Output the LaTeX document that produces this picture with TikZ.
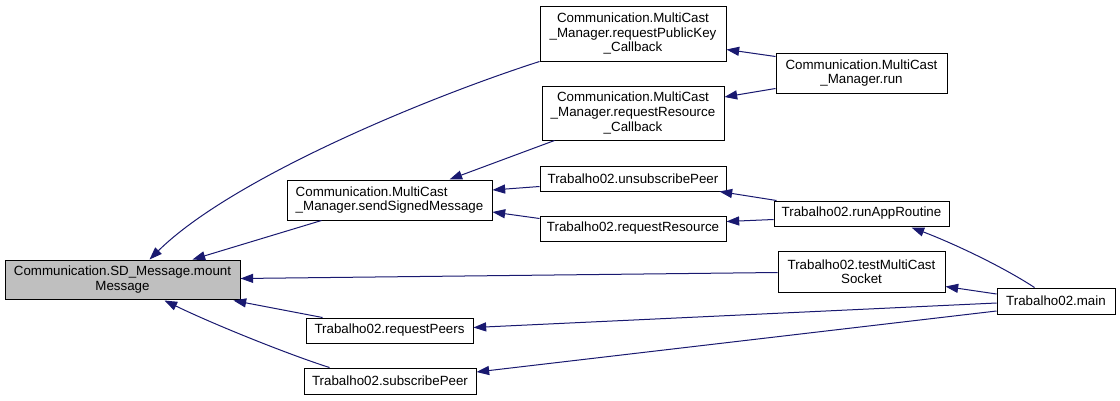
\documentclass[tikz,border=0pt]{standalone}
\usepackage{fontspec}
\setmainfont{Liberation Sans}
\usetikzlibrary{arrows.meta,calc}
\definecolor{edgeblue}{HTML}{191970}
\definecolor{rootgray}{HTML}{BFBFBF}
\begin{document}
\begin{tikzpicture}[x=0.75pt,y=-0.75pt,
  fn/.style={draw=black,line width=0.75pt,fill=white,inner sep=0pt,align=center,
    font=\fontsize{10pt}{10.9pt}\selectfont},
  edge/.style={draw=edgeblue,line width=0.75pt,-{Triangle[length=9.5pt,width=6.8pt]}}]
\useasboundingbox (0,0) rectangle (1120,400);
\fill[white] (0,0) rectangle (1120,400);
% nodes
\node[fn,fill=rootgray,minimum width=176.25pt,minimum height=29.25pt] (mm) at (122.5,279.5) {Communication.SD\_Message.mount\\Message};
\node[fn,align=left,minimum width=153.75pt,minimum height=30pt] (ssm) at (389.5,200) {Communication.MultiCast\\\_Manager.sendSignedMessage};
\node[fn,minimum width=139.5pt,minimum height=41.25pt] (pk) at (633,33.5) {Communication.MultiCast\\\_Manager.requestPublicKey\\\_Callback};
\node[fn,minimum width=136.5pt,minimum height=40.5pt] (rc) at (633,113) {Communication.MultiCast\\\_Manager.requestResource\\\_Callback};
\node[fn,minimum width=139.5pt,minimum height=18.75pt] (un) at (633,178.5) {Trabalho02.unsubscribePeer};
\node[fn,minimum width=139.5pt,minimum height=18.75pt] (rr) at (633,228.5) {Trabalho02.requestResource};
\node[fn,minimum width=125.25pt,minimum height=18.75pt] (rp) at (389.5,330.5) {Trabalho02.requestPeers};
\node[fn,minimum width=129pt,minimum height=19.5pt] (sp) at (390,381) {Trabalho02.subscribePeer};
\node[fn,minimum width=128.25pt,minimum height=30pt] (run) at (861.5,73) {Communication.MultiCast\\\_Manager.run};
\node[fn,minimum width=131.25pt,minimum height=18.75pt] (ra) at (861.5,213.5) {Trabalho02.runAppRoutine};
\node[fn,minimum width=125.25pt,minimum height=30.75pt] (tm) at (861.5,271.5) {Trabalho02.testMultiCast\\Socket};
\node[fn,minimum width=88.5pt,minimum height=19.5pt] (main) at (1056,301) {Trabalho02.main};
% edges (caller -> callee)
\draw[edge] ([xshift=0pt]pk.south west) .. controls (420,100) and (230,180) .. ($(mm.north west)+(145,0)$);
\draw[edge] ($(ssm.south west)+(35,0)$) -- ($(mm.north west)+(188,0)$);
\draw[edge] ($(tm.west)+(0,1)$) -- ($(mm.east)+(0,-1)$);
\draw[edge] ($(rp.north west)+(17,0)$) -- ($(mm.south east)+(-7,1)$);
\draw[edge] ($(sp.north west)+(26,0)$) .. controls (290,355) and (215,325) .. ($(mm.south west)+(160,1)$);
\draw[edge] ($(rc.south west)+(13,0)$) -- ($(ssm.north west)+(163,0)$);
\draw[edge] ($(un.west)+(0,8)$) -- ($(ssm.east)+(0,-10)$);
\draw[edge] ($(rr.west)+(0,-10)$) -- ($(ssm.east)+(0,12)$);
\draw[edge] ($(run.north west)+(0,4)$) -- ($(pk.east)+(0,16)$);
\draw[edge] ($(run.south west)+(0,-5)$) -- ($(rc.east)+(0,-16)$);
\draw[edge] ($(ra.north west)+(3,0)$) -- ($(un.south east)+(-7,0)$);
\draw[edge] ($(ra.west)+(0,6)$) -- ($(rr.east)+(0,-7)$);
\draw[edge] ($(main.north west)+(38,0)$) .. controls (1000,265) and (950,242) .. ($(ra.south west)+(138,1)$);
\draw[edge] ($(main.west)+(0,-7)$) -- ($(tm.south east)+(0,-6)$);
\draw[edge] ($(main.west)+(0,2)$) -- ($(rp.east)+(0,-3)$);
\draw[edge] ($(main.west)+(0,10)$) -- ($(sp.east)+(0,-9)$);
\end{tikzpicture}
\end{document}
